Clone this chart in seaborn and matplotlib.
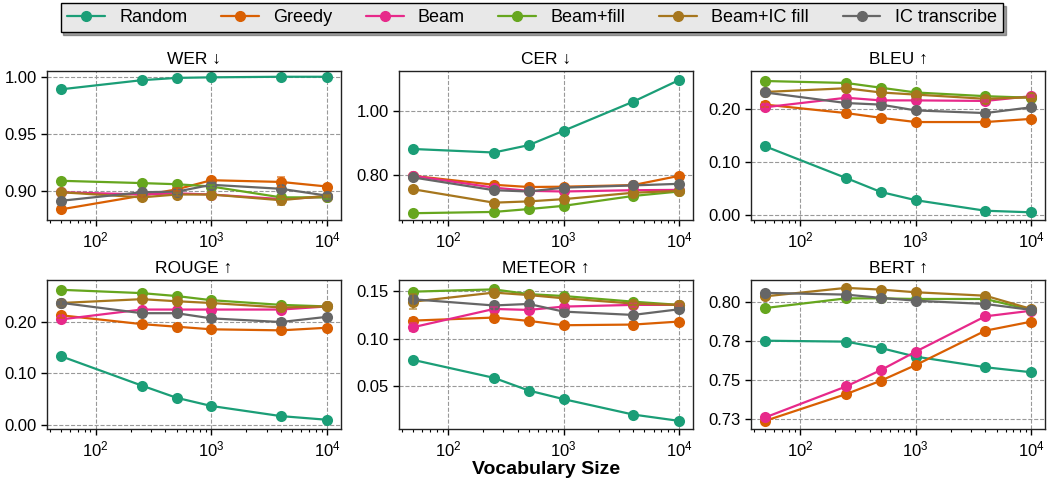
import numpy as np
import pandas as pd
import matplotlib
matplotlib.use("Agg")
import matplotlib.pyplot as plt
from matplotlib.lines import Line2D
from matplotlib.ticker import FixedLocator, FixedFormatter, LogLocator, NullFormatter
import seaborn as sns

# Data
VOCAB = [50, 250, 500, 1000, 4000, 10000]
METHODS = ["Random", "Greedy", "Beam", "Beam+fill", "Beam+IC fill", "IC transcribe"]
COLORS = ["#1b9e77", "#d95f02", "#e7298a", "#66a61e", "#a6761d", "#666666"]
METRICS = ["WER ↓", "CER ↓", "BLEU ↑", "ROUGE ↑", "METEOR ↑", "BERT ↑"]

# one row per method, order = METHODS
wer = [
    [0.989, 0.997, 0.999, 0.9995, 1.000, 1.000],
    [0.884, 0.896, 0.9015, 0.9095, 0.908, 0.904],
    [0.899, 0.897, 0.898, 0.897, 0.893, 0.895],
    [0.909, 0.907, 0.906, 0.904, 0.8945, 0.8945],
    [0.899, 0.8945, 0.897, 0.897, 0.892, 0.896],
    [0.8915, 0.899, 0.8995, 0.9055, 0.902, 0.896],
]
cer = [
    [0.882, 0.871, 0.894, 0.939, 1.030, 1.098],
    [0.798, 0.770, 0.763, 0.764, 0.769, 0.798],
    [0.798, 0.761, 0.751, 0.749, 0.753, 0.754],
    [0.681, 0.685, 0.694, 0.704, 0.735, 0.749],
    [0.756, 0.714, 0.718, 0.725, 0.745, 0.751],
    [0.793, 0.753, 0.749, 0.761, 0.768, 0.773],
]
bleu = [
    [0.130, 0.070, 0.0435, 0.028, 0.008, 0.005],
    [0.209, 0.193, 0.184, 0.176, 0.176, 0.182],
    [0.204, 0.222, 0.217, 0.217, 0.216, 0.225],
    [0.2537, 0.250, 0.241, 0.232, 0.225, 0.222],
    [0.233, 0.240, 0.232, 0.228, 0.220, 0.223],
    [0.232, 0.212, 0.209, 0.198, 0.193, 0.204],
]
rouge = [
    [0.1333, 0.0768, 0.0533, 0.0375, 0.018, 0.011],
    [0.212, 0.195, 0.190, 0.185, 0.183, 0.188],
    [0.204, 0.223, 0.223, 0.223, 0.223, 0.229],
    [0.261, 0.2546, 0.249, 0.241, 0.232, 0.229],
    [0.2356, 0.243, 0.239, 0.2356, 0.227, 0.229],
    [0.236, 0.216, 0.216, 0.206, 0.199, 0.209],
]
meteor = [
    [0.0775, 0.0585, 0.0451, 0.0360, 0.0197, 0.0130],
    [0.119, 0.1222, 0.1187, 0.1141, 0.1148, 0.118],
    [0.112, 0.1313, 0.1303, 0.1338, 0.1356, 0.1356],
    [0.1496, 0.152, 0.147, 0.145, 0.139, 0.1356],
    [0.139, 0.1486, 0.146, 0.1426, 0.137, 0.1356],
    [0.1415, 0.135, 0.1366, 0.1285, 0.125, 0.131],
]
bert = [
    [0.775, 0.7744, 0.7703, 0.7648, 0.758, 0.7548],
    [0.7237, 0.7408, 0.7494, 0.7594, 0.7814, 0.7872],
    [0.7259, 0.7457, 0.7562, 0.768, 0.7906, 0.7942],
    [0.7959, 0.8021, 0.8021, 0.8017, 0.8017, 0.7947],
    [0.8034, 0.8088, 0.8077, 0.806, 0.8038, 0.7953],
    [0.8056, 0.8045, 0.8024, 0.8006, 0.7985, 0.7947],
]
ALL_DATA = [wer, cer, bleu, rouge, meteor, bert]

# visible error bars (metric index, method) -> half widths
ERRORS = {
    (0, "Greedy"): [0.002, 0.001, 0.001, 0.001, 0.004, 0.001],
    (0, "Beam+fill"): [0.002, 0.001, 0.001, 0.001, 0.001, 0.001],
    (0, "Beam+IC fill"): [0.001, 0.002, 0.001, 0.001, 0.004, 0.001],
    (2, "Greedy"): [0.005, 0.003, 0.002, 0.002, 0.006, 0.002],
    (2, "Beam"): [0.006, 0.002, 0.002, 0.002, 0.002, 0.002],
    (2, "IC transcribe"): [0.003, 0.002, 0.002, 0.002, 0.005, 0.002],
    (3, "Greedy"): [0.005, 0.003, 0.002, 0.002, 0.006, 0.002],
    (3, "Beam+IC fill"): [0.006, 0.002, 0.002, 0.002, 0.002, 0.002],
    (3, "IC transcribe"): [0.006, 0.002, 0.003, 0.002, 0.005, 0.002],
    (4, "Greedy"): [0.003, 0.004, 0.002, 0.002, 0.003, 0.002],
    (4, "Beam"): [0.004, 0.002, 0.002, 0.002, 0.002, 0.001],
    (4, "Beam+IC fill"): [0.008, 0.004, 0.002, 0.002, 0.002, 0.001],
}

YTICKS = [
    [0.90, 0.95, 1.00],
    [0.80, 1.00],
    [0.00, 0.10, 0.20],
    [0.00, 0.10, 0.20],
    [0.05, 0.10, 0.15],
    [0.725, 0.75, 0.775, 0.80],
]
YTICKLABELS = [
    ["0.90", "0.95", "1.00"],
    ["0.80", "1.00"],
    ["0.00", "0.10", "0.20"],
    ["0.00", "0.10", "0.20"],
    ["0.05", "0.10", "0.15"],
    ["0.73", "0.75", "0.78", "0.80"],
]
YLIMS = [
    (0.8745, 1.005),
    (0.659, 1.126),
    (-0.010, 0.2726),
    (-0.007, 0.280),
    (0.0043, 0.162),
    (0.7184, 0.8139),
]

sns.set_style("ticks")
plt.rcParams["font.family"] = ["Liberation Sans", "DejaVu Sans"]
plt.rcParams["axes.edgecolor"] = "#222222"
plt.rcParams["text.color"] = "black"
plt.rcParams["xtick.color"] = "black"
plt.rcParams["ytick.color"] = "black"
plt.rcParams["axes.labelcolor"] = "black"

fig, axes = plt.subplots(2, 3, figsize=(10.47, 4.8), dpi=100)
fig.subplots_adjust(left=0.045, right=0.998, bottom=0.106, top=0.852, wspace=0.2, hspace=0.4)

for i, ax in enumerate(axes.flat):
    rows = []
    for m, vals in zip(METHODS, ALL_DATA[i]):
        for v, s in zip(VOCAB, vals):
            rows.append({"vocab": v, "score": s, "method": m})
    df = pd.DataFrame(rows)

    sns.lineplot(data=df, x="vocab", y="score", hue="method", hue_order=METHODS,
                 palette=COLORS, marker="o", markersize=8, markeredgewidth=0,
                 linewidth=1.6, legend=False, ax=ax)

    for m, c in zip(METHODS, COLORS):
        err = ERRORS.get((i, m))
        if err is None:
            continue
        vals = ALL_DATA[i][METHODS.index(m)]
        ax.errorbar(VOCAB, vals, yerr=err, fmt="none", ecolor=c, elinewidth=1.2,
                    capsize=3, capthick=1.2, alpha=0.7)

    ax.set_xscale("log")
    ax.set_xlim(38, 13100)
    ax.xaxis.set_major_locator(LogLocator(base=10))
    ax.xaxis.set_minor_locator(LogLocator(base=10, subs=np.arange(2, 10)))
    ax.xaxis.set_minor_formatter(NullFormatter())
    ax.set_ylim(*YLIMS[i])
    ax.yaxis.set_major_locator(FixedLocator(YTICKS[i]))
    ax.yaxis.set_major_formatter(FixedFormatter(YTICKLABELS[i]))
    ax.grid(True, which="major", linestyle="--", color="#999999", linewidth=0.8)
    ax.set_axisbelow(True)
    ax.tick_params(axis="both", which="major", labelsize=12, length=4, width=1)
    ax.tick_params(axis="x", which="minor", length=2.5, width=0.8)
    ax.set_title(METRICS[i], fontsize=12.5, pad=5)
    ax.set_xlabel("")
    ax.set_ylabel("")
    for sp in ax.spines.values():
        sp.set_visible(True)
        sp.set_linewidth(1.0)

axes[1, 1].set_xlabel("Vocabulary Size", fontsize=14, fontweight="bold", labelpad=1)

handles = [Line2D([0], [0], color=c, marker="o", markersize=7, linewidth=1.6) for c in COLORS]
fig.legend(handles, METHODS, loc="upper center", bbox_to_anchor=(0.508, 0.998), ncol=6,
           frameon=True, fancybox=False, shadow=True, facecolor="#e8e8e8",
           edgecolor="black", fontsize=13, columnspacing=1.85, handlelength=2.1,
           borderpad=0.35, borderaxespad=0.1, framealpha=1)

plt.savefig("out.png", dpi=100)
